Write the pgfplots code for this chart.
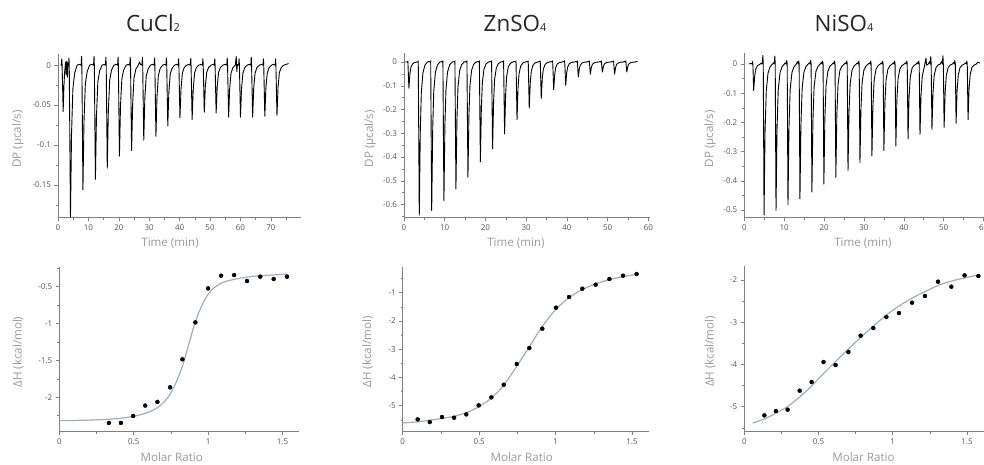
\documentclass[border=0pt]{standalone}
\usepackage{fontspec}
\setmainfont{Open Sans}
\usepackage{pgfplots}
\pgfplotsset{compat=1.18}
\definecolor{axgray}{HTML}{808080}
\definecolor{tickgray}{HTML}{555555}
\definecolor{labgray}{HTML}{9A9A9A}
\definecolor{fitcol}{HTML}{9DAEBE}
\pgfplotsset{
  isc/.style={scale only axis, axis x line*=bottom, axis y line*=left,
    tick align=outside, major tick length=3.5pt, minor tick length=2pt,
    tick style={axgray, line width=0.6pt},
    axis line style={axgray, line width=0.8pt},
    ticklabel style={font=\fontsize{8}{9}\selectfont, text=tickgray},
    label style={font=\fontsize{11.6}{13}\selectfont, text=labgray},
    anchor=south west, clip=false},
  trace/.style={black, line width=0.9pt, line join=round},
  fit/.style={fitcol, line width=1.2pt, smooth},
  pts/.style={only marks, mark=*, mark size=2pt, black},
}
\begin{document}
\begin{tikzpicture}
% ---------- CuCl2 thermogram ----------
\begin{axis}[isc, at={(58pt,246.3pt)}, width=243pt, height=163.7pt,
  xmin=0, xmax=79.9, ymin=-0.191, ymax=0.014,
  xtick={0,10,20,30,40,50,60,70}, xticklabels={0,10,20,30,40,50,60,70},
  minor xtick={5,15,25,35,45,55,65,75},
  ytick={-0.15,-0.1,-0.05,0}, yticklabels={-0.15,-0.1,-0.05,0},
  minor ytick={-0.175,-0.125,-0.075,-0.025},
  xlabel={Time (min)}, ylabel={DP (µcal/s)},
  xlabel style={at={(axis description cs:0.461,-0.155)}, anchor=center},
  ylabel style={at={(axis description cs:-0.165,0.48)}, anchor=center}]
\addplot[trace] coordinates {
(0.9,0) (1.1,0) (1.25,0.008) (1.35,0) (1.7,-0.058) (1.95,-0.026) (2.2,-0.008) (2.5,0.004) (2.7,-0.012) (2.9,0.005) (3.1,-0.015) (3.3,0.003) (3.5,0)
(3.6,0.009) (3.7,0) (4.1,-0.190) (4.45,-0.086) (4.9,-0.029) (5.5,-0.0095) (6.3,0) (7.0,0.001)
(7.6,0) (7.75,0.011) (7.85,0) (8.2,-0.156) (8.55,-0.070) (9.0,-0.023) (9.6,-0.008) (10.4,0) (11.1,0.001)
(11.7,0) (11.85,0.011) (11.95,0) (12.3,-0.143) (12.65,-0.064) (13.1,-0.021) (13.7,-0.007) (14.5,0) (15.2,0.001)
(15.6,0) (15.75,0.010) (15.85,0) (16.2,-0.129) (16.55,-0.058) (17.0,-0.019) (17.6,-0.006) (18.4,0) (19.1,0.001)
(19.6,0) (19.75,0.010) (19.85,0) (20.2,-0.114) (20.55,-0.051) (21.0,-0.017) (21.6,-0.006) (22.4,0) (23.1,0.001)
(23.6,0) (23.75,0.010) (23.85,0) (24.2,-0.107) (24.55,-0.048) (25.0,-0.016) (25.6,-0.005) (26.4,0) (26.8,0.004) (27.1,0.001)
(27.6,0) (27.75,0.010) (27.85,0) (28.2,-0.094) (28.55,-0.042) (29.0,-0.014) (29.6,-0.005) (30.4,0) (31.1,0.001)
(31.6,0) (31.75,0.009) (31.85,0) (32.2,-0.089) (32.55,-0.040) (33.0,-0.013) (33.6,-0.004) (34.4,0) (35.1,0.001)
(35.5,0) (35.65,0.009) (35.75,0) (36.1,-0.076) (36.45,-0.034) (36.9,-0.011) (37.5,-0.004) (38.3,0) (39.0,0.001)
(39.5,0) (39.65,0.008) (39.75,0) (40.1,-0.066) (40.45,-0.030) (40.9,-0.010) (41.5,-0.003) (42.3,0) (43.0,0.001)
(43.5,0) (43.65,0.009) (43.75,0) (44.1,-0.068) (44.45,-0.031) (44.9,-0.010) (45.5,-0.003) (46.3,0) (47.0,0.001)
(47.5,0) (47.65,0.008) (47.75,0) (48.1,-0.059) (48.45,-0.026) (48.9,-0.009) (49.5,-0.003) (50.3,0) (51.0,0.001)
(51.4,0) (51.55,0.008) (51.65,0) (52.0,-0.060) (52.35,-0.027) (52.8,-0.009) (53.4,-0.003) (54.2,0) (54.9,0.001)
(55.5,0) (55.65,0.009) (55.75,0) (56.1,-0.065) (56.45,-0.029) (56.9,-0.010) (57.5,-0.003) (58.3,0) (58.6,0.011) (58.8,-0.008) (59.0,0.001)
(59.4,0) (59.55,0.008) (59.65,0) (60.0,-0.065) (60.35,-0.029) (60.8,-0.010) (61.4,-0.003) (62.2,0) (62.9,0.001)
(63.4,0) (63.55,0.010) (63.65,0) (64.0,-0.065) (64.35,-0.029) (64.8,-0.010) (65.4,-0.003) (66.2,0) (66.9,0.001)
(67.4,0) (67.55,0.008) (67.65,0) (68.0,-0.064) (68.35,-0.029) (68.8,-0.010) (69.4,-0.003) (70.2,0) (70.9,0.001)
(71.4,0) (71.55,0.008) (71.65,0) (72.0,-0.063) (72.35,-0.028) (72.8,-0.009) (73.4,-0.003) (74.2,0) (75.0,0.001) (75.8,0.002)
};
\end{axis}
% ---------- CuCl2 isotherm ----------
\begin{axis}[isc, at={(59.3pt,32.3pt)}, width=239.7pt, height=164.7pt,
  xmin=0, xmax=1.61, ymin=-2.467, ymax=-0.233,
  xtick={0,0.5,1,1.5}, xticklabels={0,0.5,1,1.5}, minor xtick={0.25,0.75,1.25},
  ytick={-2,-1.5,-1,-0.5}, yticklabels={-2,-1.5,-1,-0.5},
  minor ytick={-2.25,-1.75,-1.25,-0.75,-0.25},
  xlabel={Molar Ratio}, ylabel={ΔH (kcal/mol)},
  xlabel style={at={(axis description cs:0.469,-0.152)}, anchor=center},
  ylabel style={at={(axis description cs:-0.172,0.484)}, anchor=center}]
\addplot[fit] coordinates {
(0,-2.317) (0.2,-2.31) (0.35,-2.295) (0.45,-2.275) (0.55,-2.235) (0.62,-2.185) (0.68,-2.11) (0.73,-2.0) (0.78,-1.82) (0.83,-1.56) (0.87,-1.28) (0.91,-1.0) (0.95,-0.79) (1.0,-0.60) (1.05,-0.50) (1.1,-0.44) (1.2,-0.39) (1.3,-0.36) (1.4,-0.345) (1.53,-0.33)
};
\addplot[pts] coordinates {
(0.333,-2.348) (0.414,-2.348) (0.496,-2.253) (0.577,-2.113) (0.659,-2.063) (0.744,-1.865) (0.827,-1.485) (0.914,-0.984) (0.999,-0.523) (1.087,-0.351) (1.174,-0.342) (1.261,-0.423) (1.350,-0.364) (1.440,-0.396) (1.529,-0.364)
};
\end{axis}
% ---------- ZnSO4 thermogram ----------
\begin{axis}[isc, at={(404pt,246.3pt)}, width=246pt, height=164.7pt,
  xmin=0, xmax=60.4, ymin=-0.655, ymax=0.038,
  xtick={0,10,20,30,40,50,60}, xticklabels={0,10,20,30,40,50,60},
  minor xtick={5,15,25,35,45,55},
  ytick={-0.6,-0.5,-0.4,-0.3,-0.2,-0.1,0}, yticklabels={-0.6,-0.5,-0.4,-0.3,-0.2,-0.1,0},
  minor ytick={-0.65,-0.55,-0.45,-0.35,-0.25,-0.15,-0.05},
  xlabel={Time (min)}, ylabel={DP (µcal/s)},
  xlabel style={at={(axis description cs:0.455,-0.155)}, anchor=center},
  ylabel style={at={(axis description cs:-0.138,0.48)}, anchor=center}]
\addplot[trace] coordinates {
(0.25,0) (0.85,0) (0.95,0.004) (1.2,-0.110) (1.45,-0.050) (1.7,-0.022) (2.1,-0.008) (2.6,-0.002) (3.2,0)
(3.4,0) (3.5,0.005) (3.75,-0.644) (4.0,-0.290) (4.25,-0.129) (4.65,-0.045) (5.15,-0.013) (5.75,0) (6.2,0.002)
(6.45,0) (6.55,0.005) (6.8,-0.625) (7.05,-0.281) (7.3,-0.125) (7.7,-0.044) (8.2,-0.013) (8.8,0) (9.25,0.002)
(9.45,0) (9.55,0.005) (9.8,-0.583) (10.05,-0.262) (10.3,-0.117) (10.7,-0.041) (11.2,-0.012) (11.8,0) (12.25,0.002)
(12.4,0) (12.5,0.005) (12.75,-0.534) (13.0,-0.240) (13.25,-0.107) (13.65,-0.037) (14.15,-0.011) (14.75,0) (15.2,0.002)
(15.35,0) (15.45,0.005) (15.7,-0.485) (15.95,-0.218) (16.2,-0.097) (16.6,-0.034) (17.1,-0.010) (17.7,0) (18.15,0.002)
(18.4,0) (18.5,0.005) (18.75,-0.420) (19.0,-0.189) (19.25,-0.084) (19.65,-0.029) (20.15,-0.008) (20.75,0) (21.2,0.002)
(21.4,0) (21.5,0.005) (21.75,-0.365) (22.0,-0.164) (22.25,-0.073) (22.65,-0.026) (23.15,-0.007) (23.75,0) (24.2,0.002)
(24.35,0) (24.45,0.005) (24.7,-0.303) (24.95,-0.136) (25.2,-0.061) (25.6,-0.021) (26.1,-0.006) (26.7,0) (27.15,0.002)
(27.4,0) (27.5,0.005) (27.75,-0.243) (28.0,-0.109) (28.25,-0.049) (28.65,-0.017) (29.15,-0.005) (29.75,0) (30.2,0.002)
(30.4,0) (30.5,0.005) (30.75,-0.194) (31.0,-0.087) (31.25,-0.039) (31.65,-0.014) (32.15,-0.004) (32.75,0) (33.2,0.002)
(33.35,0) (33.45,0.005) (33.7,-0.153) (33.95,-0.069) (34.2,-0.031) (34.6,-0.011) (35.1,-0.003) (35.7,0) (36.15,0.002)
(36.4,0) (36.5,0.005) (36.75,-0.117) (37.0,-0.053) (37.25,-0.023) (37.65,-0.008) (38.15,-0.002) (38.75,0) (39.2,0.002)
(39.35,0) (39.45,0.005) (39.7,-0.098) (39.95,-0.044) (40.2,-0.020) (40.6,-0.007) (41.1,-0.002) (41.7,0) (42.15,0.002)
(42.45,0) (42.55,0.005) (42.8,-0.063) (43.05,-0.028) (43.3,-0.013) (43.7,-0.004) (44.2,-0.001) (44.8,0) (45.25,0.002)
(45.4,0) (45.5,0.005) (45.75,-0.051) (46.0,-0.023) (46.25,-0.010) (46.65,-0.004) (47.15,-0.001) (47.75,0) (48.2,0.002)
(48.35,0) (48.45,0.005) (48.7,-0.042) (48.95,-0.019) (49.2,-0.008) (49.6,-0.003) (50.1,-0.001) (50.7,0) (51.15,0.002)
(51.35,0) (51.45,0.005) (51.7,-0.051) (51.95,-0.023) (52.2,-0.010) (52.6,-0.004) (53.1,-0.001) (53.7,0) (54.15,0.002)
(54.35,0) (54.45,0.005) (54.7,-0.042) (54.95,-0.019) (55.2,-0.008) (55.6,-0.003) (56.1,-0.001) (56.7,0) (57.3,0.003)
};
\end{axis}
% ---------- ZnSO4 isotherm ----------
\begin{axis}[isc, at={(402.7pt,32.3pt)}, width=246.3pt, height=165pt,
  xmin=0, xmax=1.611, ymin=-5.92, ymax=-0.08,
  xtick={0,0.5,1,1.5}, xticklabels={0,0.5,1,1.5}, minor xtick={0.25,0.75,1.25},
  ytick={-5,-4,-3,-2,-1}, yticklabels={-5,-4,-3,-2,-1},
  minor ytick={-5.5,-4.5,-3.5,-2.5,-1.5,-0.5},
  xlabel={Molar Ratio}, ylabel={ΔH (kcal/mol)},
  xlabel style={at={(axis description cs:0.483,-0.152)}, anchor=center},
  ylabel style={at={(axis description cs:-0.142,0.484)}, anchor=center}]
\addplot[fit] coordinates {
(0,-5.61) (0.1,-5.57) (0.18,-5.51) (0.26,-5.45) (0.34,-5.37) (0.42,-5.24) (0.5,-5.03) (0.58,-4.73) (0.66,-4.28) (0.74,-3.65) (0.83,-2.90) (0.91,-2.22) (1.0,-1.60) (1.09,-1.17) (1.17,-0.90) (1.26,-0.69) (1.35,-0.54) (1.44,-0.43) (1.53,-0.35)
};
\addplot[pts] coordinates {
(0.098,-5.484) (0.177,-5.578) (0.257,-5.401) (0.336,-5.425) (0.416,-5.307) (0.497,-4.988) (0.580,-4.705) (0.661,-4.257) (0.746,-3.525) (0.828,-2.959) (0.913,-2.274) (1.003,-1.531) (1.088,-1.153) (1.175,-0.858) (1.262,-0.717) (1.352,-0.516) (1.441,-0.398) (1.530,-0.339)
};
\end{axis}
% ---------- NiSO4 thermogram ----------
\begin{axis}[isc, at={(744.3pt,246.3pt)}, width=239.7pt, height=164.4pt,
  xmin=0, xmax=60.1, ymin=-0.526, ymax=0.0365,
  xtick={0,10,20,30,40,50,60}, xticklabels={0,10,20,30,40,50,60},
  minor xtick={5,15,25,35,45,55},
  ytick={-0.5,-0.4,-0.3,-0.2,-0.1,0}, yticklabels={-0.5,-0.4,-0.3,-0.2,-0.1,0},
  minor ytick={-0.45,-0.35,-0.25,-0.15,-0.05},
  xlabel={Time (min)}, ylabel={DP (µcal/s)},
  xlabel style={at={(axis description cs:0.495,-0.155)}, anchor=center},
  ylabel style={at={(axis description cs:-0.143,0.48)}, anchor=center}]
\addplot[trace] coordinates {
(1.25,0) (1.6,0.002) (1.95,0) (2.05,0.008) (2.15,0) (2.35,-0.091) (2.6,-0.041) (2.9,-0.016) (3.35,-0.005) (3.85,-0.002) (4.2,0.003) (4.45,0)
(4.5,0) (4.65,0.029) (4.75,0) (4.95,-0.517) (5.2,-0.233) (5.5,-0.093) (5.95,-0.031) (6.45,-0.010) (7.05,0) (7.35,0.004)
(7.5,0) (7.65,0.027) (7.75,0) (7.95,-0.501) (8.2,-0.225) (8.5,-0.090) (8.95,-0.030) (9.45,-0.010) (10.05,0) (10.35,0.004)
(10.5,0) (10.65,0.012) (10.75,0) (10.95,-0.482) (11.2,-0.217) (11.5,-0.087) (11.95,-0.029) (12.45,-0.010) (13.05,0) (13.35,0.008)
(13.5,0) (13.65,0.010) (13.75,0) (13.95,-0.462) (14.2,-0.208) (14.5,-0.083) (14.95,-0.028) (15.45,-0.009) (16.05,0) (16.35,0.004)
(16.5,0) (16.65,0.012) (16.75,0) (16.95,-0.438) (17.2,-0.197) (17.5,-0.079) (17.95,-0.026) (18.45,-0.009) (19.05,0) (19.35,0.006)
(19.5,0) (19.65,0.010) (19.75,0) (19.95,-0.411) (20.2,-0.185) (20.5,-0.074) (20.95,-0.025) (21.45,-0.008) (22.05,0) (22.35,0.004)
(22.5,0) (22.65,0.010) (22.75,0) (22.95,-0.388) (23.2,-0.175) (23.5,-0.070) (23.95,-0.023) (24.45,-0.008) (25.05,0) (25.35,0.004)
(25.55,0) (25.7,0.010) (25.8,0) (26.0,-0.365) (26.25,-0.164) (26.55,-0.066) (27.0,-0.022) (27.5,-0.007) (28.1,0) (28.4,0.004)
(28.55,0) (28.7,0.010) (28.8,0) (29.0,-0.338) (29.25,-0.152) (29.55,-0.061) (30.0,-0.020) (30.5,-0.007) (31.1,0) (31.4,0.004)
(31.55,0) (31.7,0.010) (31.8,0) (32.0,-0.315) (32.25,-0.142) (32.55,-0.057) (33.0,-0.019) (33.5,-0.006) (34.1,0) (34.4,0.004)
(34.55,0) (34.7,0.010) (34.8,0) (35.0,-0.296) (35.25,-0.133) (35.55,-0.053) (36.0,-0.018) (36.5,-0.006) (37.1,0) (37.4,0.004)
(37.55,0) (37.7,0.010) (37.8,0) (38.0,-0.281) (38.25,-0.126) (38.55,-0.051) (39.0,-0.017) (39.5,-0.006) (40.1,0) (40.4,0.004)
(40.6,0) (40.75,0.010) (40.85,0) (41.05,-0.257) (41.3,-0.116) (41.6,-0.046) (42.05,-0.015) (42.55,-0.005) (43.15,0) (43.45,0.006)
(43.6,0) (43.75,0.010) (43.85,0) (44.05,-0.242) (44.3,-0.109) (44.6,-0.044) (45.05,-0.015) (45.55,0.020) (45.7,-0.004) (46.15,0) (46.45,0.008)
(46.6,0) (46.75,0.025) (46.85,0) (47.05,-0.224) (47.3,-0.101) (47.6,-0.040) (48.05,-0.013) (48.55,-0.004) (49.15,0) (49.45,0.008)
(49.65,0) (49.8,0.028) (49.9,0) (50.1,-0.217) (50.35,-0.098) (50.65,-0.039) (51.1,-0.013) (51.6,-0.004) (52.2,0) (52.5,0.006)
(52.65,0) (52.8,0.012) (52.9,0) (53.1,-0.203) (53.35,-0.091) (53.65,-0.037) (54.1,-0.012) (54.6,-0.004) (55.2,0) (55.5,0.004)
(55.65,0) (55.8,0.010) (55.9,0) (56.1,-0.191) (56.35,-0.086) (56.65,-0.034) (57.1,-0.011) (57.6,-0.004) (58.2,0) (58.5,0.006) (59.1,0.003)
};
\end{axis}
% ---------- NiSO4 isotherm ----------
\begin{axis}[isc, at={(744.3pt,32.3pt)}, width=239.7pt, height=165.7pt,
  xmin=0, xmax=1.615, ymin=-5.592, ymax=-1.668,
  xtick={0,0.5,1,1.5}, xticklabels={0,0.5,1,1.5}, minor xtick={0.25,0.75,1.25},
  ytick={-5,-4,-3,-2}, yticklabels={-5,-4,-3,-2},
  minor ytick={-5.5,-4.5,-3.5,-2.5},
  xlabel={Molar Ratio}, ylabel={ΔH (kcal/mol)},
  xlabel style={at={(axis description cs:0.497,-0.152)}, anchor=center},
  ylabel style={at={(axis description cs:-0.143,0.484)}, anchor=center}]
\addplot[fit] coordinates {
(0.056,-5.387) (0.135,-5.29) (0.21,-5.16) (0.29,-5.0) (0.37,-4.78) (0.45,-4.52) (0.53,-4.23) (0.615,-3.93) (0.70,-3.64) (0.784,-3.36) (0.87,-3.09) (0.957,-2.83) (1.04,-2.62) (1.13,-2.43) (1.22,-2.27) (1.305,-2.13) (1.39,-2.03) (1.484,-1.95) (1.577,-1.88)
};
\addplot[pts] coordinates {
(0.135,-5.205) (0.213,-5.103) (0.292,-5.071) (0.373,-4.621) (0.454,-4.416) (0.534,-3.942) (0.615,-4.013) (0.701,-3.705) (0.784,-3.318) (0.869,-3.137) (0.957,-2.876) (1.042,-2.782) (1.130,-2.537) (1.217,-2.379) (1.305,-2.039) (1.395,-2.158) (1.484,-1.889) (1.577,-1.905)
};
\end{axis}
% ---------- titles ----------
\node[anchor=base, text=black!85] at (153pt,432.5pt) {\fontsize{22.4}{26}\selectfont CuCl{\fontsize{11}{13}\selectfont 2}};
\node[anchor=base, text=black!85] at (515pt,432.5pt) {\fontsize{22.4}{26}\selectfont ZnSO{\fontsize{11}{13}\selectfont 4}};
\node[anchor=base, text=black!85] at (844pt,432.5pt) {\fontsize{22.4}{26}\selectfont NiSO{\fontsize{11}{13}\selectfont 4}};
\pgfresetboundingbox
\useasboundingbox (0,0) rectangle (984pt,464pt);
\end{tikzpicture}
\end{document}
